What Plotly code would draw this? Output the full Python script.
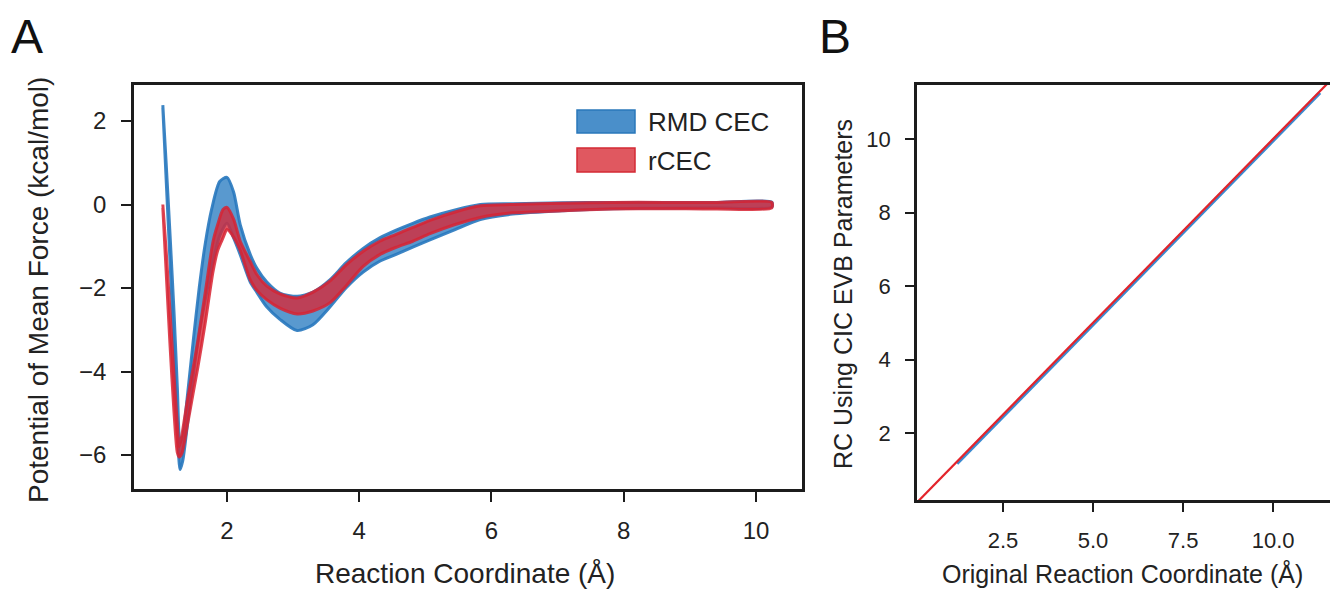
import plotly.graph_objects as go

# ---------------- Panel A data ----------------
rmd_x = [1.03, 1.08, 1.14, 1.20, 1.25, 1.29, 1.33, 1.40, 1.49, 1.58, 1.67, 1.77, 1.89, 2.00,
         2.10, 2.20, 2.35, 2.45, 2.60, 2.80, 3.06, 3.30, 3.56, 3.80, 4.06, 4.31, 4.55, 4.81,
         5.07, 5.45, 5.83, 6.32, 7.08, 7.84, 8.60, 9.40, 10.24]
rmd_upper = [2.38, 1.0, -0.75, -2.6, -4.4, -5.7, -5.55, -4.6, -3.26, -2.0, -0.95, -0.1, 0.55, 0.65,
             0.3, -0.48, -1.19, -1.52, -1.85, -2.12, -2.2, -2.1, -1.8, -1.4, -1.05, -0.8, -0.62, -0.45,
             -0.3, -0.13, 0.0, 0.02, 0.04, 0.05, 0.05, 0.05, 0.06]
rmd_lower = [2.32, 0.6, -1.4, -3.5, -5.3, -6.35, -6.15, -5.3, -4.1, -3.1, -2.3, -1.5, -0.75, -0.45,
             -0.8, -1.2, -1.85, -2.1, -2.45, -2.75, -3.02, -2.88, -2.45, -2.0, -1.62, -1.36, -1.2, -1.02,
             -0.85, -0.6, -0.36, -0.23, -0.15, -0.1, -0.09, -0.08, -0.06]

rcec_x = [1.03, 1.08, 1.14, 1.20, 1.25, 1.28, 1.32, 1.40, 1.49, 1.56, 1.67, 1.79, 1.86, 1.94,
          2.00, 2.10, 2.20, 2.35, 2.45, 2.60, 2.80, 3.06, 3.30, 3.56, 3.80, 4.06, 4.31, 4.55,
          4.81, 5.07, 5.45, 5.83, 6.32, 7.08, 7.84, 8.60, 9.40, 10.24]
rcec_upper = [0.0, -1.1, -2.6, -4.1, -5.3, -5.8, -5.5, -4.7, -3.9, -3.26, -2.12, -0.88, -0.48, -0.12,
              -0.07, -0.35, -0.88, -1.36, -1.67, -1.95, -2.14, -2.24, -2.1, -1.83, -1.45, -1.12, -0.88, -0.72,
              -0.55, -0.38, -0.18, -0.03, 0.0, 0.03, 0.05, 0.05, 0.05, 0.05]
rcec_lower = [-0.08, -1.6, -3.4, -5.0, -5.95, -6.05, -5.95, -5.3, -4.5, -3.9, -2.85, -1.6, -1.1, -0.8,
              -0.6, -0.78, -1.1, -1.8, -2.05, -2.28, -2.48, -2.62, -2.55, -2.35, -1.95, -1.48, -1.2, -1.03,
              -0.88, -0.7, -0.48, -0.31, -0.2, -0.15, -0.11, -0.1, -0.11, -0.08]

series_names = ["RMD CEC", "rCEC"]

# ---------------- Panel B data ----------------
orig_rc = [1.22, 1.6, 2.0, 2.4, 2.8, 3.3, 3.8, 4.3, 4.8, 5.3, 5.8, 6.3, 6.8, 7.3, 7.8, 8.3,
           8.8, 9.3, 9.8, 10.3, 10.8, 11.3]
cic_rc = [1.17, 1.55, 1.93, 2.34, 2.74, 3.24, 3.73, 4.23, 4.74, 5.24, 5.74, 6.24, 6.75, 7.25,
          7.75, 8.25, 8.75, 9.25, 9.76, 10.26, 10.76, 11.26]
ident_x = [0.0, 12.0]
ident_y = [0.0, 12.0]

# ---------------- styles ----------------
BLUE_FILL = "rgba(52,130,196,0.82)"
BLUE_LINE = "rgba(40,120,190,0.9)"
RED_FILL = "rgba(218,38,52,0.78)"
RED_LINE = "rgba(215,35,50,0.85)"
AX = "#1c1c1c"
TXT = "#222222"
FONT = "Liberation Sans, Arial, Helvetica, sans-serif"

fig = go.Figure()

fig.add_trace(go.Scatter(
    x=rmd_x + rmd_x[::-1], y=rmd_upper + rmd_lower[::-1],
    fill="toself", fillcolor=BLUE_FILL,
    line=dict(color=BLUE_LINE, width=3, shape="spline", smoothing=0.7),
    mode="lines", name=series_names[0], showlegend=False, xaxis="x", yaxis="y"))
fig.add_trace(go.Scatter(
    x=rcec_x + rcec_x[::-1], y=rcec_upper + rcec_lower[::-1],
    fill="toself", fillcolor=RED_FILL,
    line=dict(color=RED_LINE, width=3, shape="spline", smoothing=0.7),
    mode="lines", name=series_names[1], showlegend=False, xaxis="x", yaxis="y"))

fig.add_trace(go.Scatter(
    x=orig_rc, y=cic_rc, mode="lines", line=dict(color="#3a8ad0", width=3.5),
    showlegend=False, xaxis="x2", yaxis="y2"))
fig.add_trace(go.Scatter(
    x=ident_x, y=ident_y, mode="lines", line=dict(color="#e3242b", width=2.2),
    showlegend=False, xaxis="x2", yaxis="y2"))

W, H = 1330, 589
def px(xp):
    return xp / W
def py(yp):
    return 1 - yp / H

axis_common = dict(showline=True, linecolor=AX, linewidth=2.5, mirror=True,
                   ticks="outside", tickcolor=AX, tickwidth=2, showgrid=False,
                   zeroline=False)

fig.update_layout(
    width=W, height=H,
    margin=dict(l=0, r=0, t=0, b=0),
    paper_bgcolor="white", plot_bgcolor="white",
    font=dict(family=FONT, color=TXT),
    xaxis=dict(domain=[px(134), px(802)], range=[0.594, 10.696], tickvals=[2, 4, 6, 8, 10],
               ticklen=10, tickfont=dict(size=24, color=TXT), ticklabelstandoff=8,
               anchor="y", **axis_common),
    yaxis=dict(domain=[py(489), py(85)], range=[-6.814, 2.862], tickvals=[-6, -4, -2, 0, 2],
               ticklen=10, tickfont=dict(size=24, color=TXT), ticklabelstandoff=10,
               anchor="x", **axis_common),
    xaxis2=dict(domain=[px(917), 1.0], range=[0.111, 11.58], tickvals=[2.5, 5.0, 7.5, 10.0],
                ticktext=["2.5", "5.0", "7.5", "10.0"],
                ticklen=9, tickfont=dict(size=22, color=TXT), ticklabelstandoff=10,
                anchor="y2", showline=True, linecolor=AX, linewidth=2.5, mirror=True,
                ticks="outside", tickcolor=AX, tickwidth=2, showgrid=False, zeroline=False),
    yaxis2=dict(domain=[py(500), py(85)], range=[0.177, 11.47], tickvals=[2, 4, 6, 8, 10],
                ticklen=9, tickfont=dict(size=22, color=TXT), ticklabelstandoff=10,
                anchor="x2", showline=True, linecolor=AX, linewidth=2.5, mirror=False,
                ticks="outside", tickcolor=AX, tickwidth=2, showgrid=False, zeroline=False),
)

# legend swatches (panel A)
fig.add_shape(type="rect", xref="paper", yref="paper", x0=px(577), x1=px(635), y0=py(133), y1=py(110),
              fillcolor="#4a8fca", line=dict(color="#2a78bb", width=1.5))
fig.add_shape(type="rect", xref="paper", yref="paper", x0=px(577), x1=px(635), y0=py(172), y1=py(148),
              fillcolor="#e05860", line=dict(color="#d42a35", width=1.5))

annotations = [
    dict(text=series_names[0], x=px(646), y=py(122), xanchor="left", yanchor="middle", font=dict(size=26)),
    dict(text=series_names[1], x=px(646), y=py(161), xanchor="left", yanchor="middle", font=dict(size=26)),
    dict(text="A", x=px(27), y=py(36), xanchor="center", yanchor="middle", font=dict(size=48, color="#111")),
    dict(text="B", x=px(835), y=py(36), xanchor="center", yanchor="middle", font=dict(size=48, color="#111")),
    dict(text="Potential of Mean Force (kcal/mol)", x=px(38), y=py(290), textangle=-90,
         xanchor="center", yanchor="middle", font=dict(size=28)),
    dict(text="Reaction Coordinate (Å)", x=px(465), y=py(573), xanchor="center", yanchor="middle",
         font=dict(size=28)),
    dict(text="RC Using CIC EVB Parameters", x=px(843), y=py(294), textangle=-90,
         xanchor="center", yanchor="middle", font=dict(size=25)),
    dict(text="Original Reaction Coordinate (Å)", x=px(1122), y=py(573), xanchor="center", yanchor="middle",
         font=dict(size=25)),
]
for a in annotations:
    a.update(xref="paper", yref="paper", showarrow=False)
    fig.add_annotation(**a)

fig.write_html("out.html", config={"displayModeBar": False},
               post_script="document.body.style.margin='0';document.body.style.overflow='hidden';")
